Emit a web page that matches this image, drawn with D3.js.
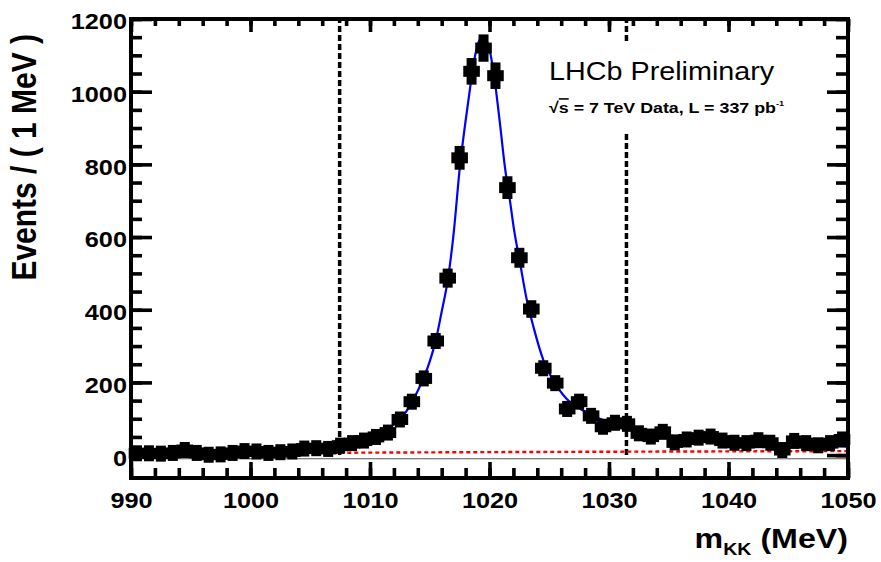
<!DOCTYPE html>
<html><head><meta charset="utf-8">
<script src="https://cdn.jsdelivr.net/npm/d3@7"></script>
<style>
body{margin:0;background:#fff}
svg{display:block}
text{font-family:"Liberation Sans",Arial,Helvetica,sans-serif;fill:#000}
</style>
</head><body>
<svg id="c" width="881" height="562"></svg>
<script>
// ---- data ----
const binCenters = [990.5,991.5,992.5,993.5,994.5,995.5,996.5,997.5,998.5,999.5,
  1000.5,1001.5,1002.5,1003.5,1004.5,1005.5,1006.5,1007.5,1008.5,1009.5,
  1010.5,1011.5,1012.5,1013.5,1014.5,1015.5,1016.5,1017.5,1018.5,1019.5,
  1020.5,1021.5,1022.5,1023.5,1024.5,1025.5,1026.5,1027.5,1028.5,1029.5,
  1030.5,1031.5,1032.5,1033.5,1034.5,1035.5,1036.5,1037.5,1038.5,1039.5,
  1040.5,1041.5,1042.5,1043.5,1044.5,1045.5,1046.5,1047.5,1048.5,1049.5];
const counts = [5,5,4,6,14,6,1,2,6,11,
  10,6,8,10,18,19,17,26,33,40,
  50,62,98,147,211,314,487,818,1056,1120,
  1044,736,543,402,239,198,127,147,108,78,
  89,86,60,51,64,35,43,48,51,40,
  34,33,41,34,14,39,33,27,33,43];
const fitMass = [1004,1006,1008,1010,1011,1012,1012.5,1013,1013.5,1014,1014.5,1015,1015.5,1016,1016.5,1017,1017.5,1018,1018.4,1018.8,1019.2,1019.45,1019.7,1020.1,1020.5,1020.9,1021.3,1021.7,1022.05,1022.55,1023.1,1023.7,1024.5,1025.6,1026.7,1027.3,1028.9,1030.4,1032.6,1035.4,1039.3,1044.6,1050];
const fitValues = [12,17,27,46,62,84,98,118,145,177,213,258,315,395,480,610,786,920,1016,1100,1145,1152,1145,1100,1015,905,790,703,621,530,430,350,262,192,147,133,105,88,72,52,41,31,24];
const bkgMass = [1004,1027,1050];
const bkgValues = [6,9,11];
const windowEdges = [1007.46,1031.46];
const xTicks = [990,1000,1010,1020,1030,1040,1050];
const yTicks = [0,200,400,600,800,1000,1200];
const xMinor = d3.range(990,1050.01,2);
const yMinor = d3.range(0,1200.01,50);
const xDomain = [990,1050];
const yDomain = [-63,1200];

// ---- layout ----
const L = 131, R = 848, T = 19, B = 478;
const SX = 1.15; // horizontal stretch of the reference text
const svg = d3.select("#c");
const x = d3.scaleLinear().domain(xDomain).range([L, R]);
const y = d3.scaleLinear().domain(yDomain).range([B, T]);

// thin baseline below zero
svg.append("line").attr("x1",L).attr("x2",R).attr("y1",y(-10)).attr("y2",y(-10))
  .attr("stroke","#555").attr("stroke-width",1.2);

// dashed window lines
svg.selectAll("line.win").data(windowEdges).join("line").attr("class","win")
  .attr("x1",d=>x(d)).attr("x2",d=>x(d)).attr("y1",y(0)).attr("y2",y(1200))
  .attr("stroke","#000").attr("stroke-width",3.5).attr("stroke-dasharray","6,3");

// background (red dashed)
const bkgLine = d3.line().x((d,i)=>x(bkgMass[i])).y(d=>y(d)).curve(d3.curveMonotoneX);
svg.append("path").attr("d",bkgLine(bkgValues)).attr("fill","none")
  .attr("stroke","#ff0000").attr("stroke-width",2.4).attr("stroke-dasharray","4,3");

// fit (blue)
const fitLine = d3.line().x((d,i)=>x(fitMass[i])).y(d=>y(d)).curve(d3.curveMonotoneX);
svg.append("path").attr("d",fitLine(fitValues)).attr("fill","none")
  .attr("stroke","#0000ff").attr("stroke-width",2.2);

// data markers
const pxPerUnit = Math.abs(y(1)-y(0));
const g = svg.append("g");
binCenters.forEach((m,i)=>{
  const c = counts[i];
  const cx = x(m), cy = y(c);
  const errPx = Math.sqrt(c)*pxPerUnit;
  const hv = Math.max(8, errPx+1.5);
  g.append("rect").attr("x",cx-8.3).attr("y",cy-5.5).attr("width",16.6).attr("height",11).attr("fill","#000");
  g.append("rect").attr("x",cx-5).attr("y",cy-hv).attr("width",10).attr("height",2*hv).attr("fill","#000");
});

// legend box
svg.append("rect").attr("x",540).attr("y",44).attr("width",262).attr("height",90).attr("fill","#fff");
svg.append("text").attr("transform",`translate(549,80) scale(${SX},1)`)
  .attr("font-size",25).text("LHCb Preliminary");
const t2 = svg.append("text").attr("transform",`translate(549,113) scale(${SX},1)`)
  .attr("font-size",15.5).attr("font-weight","bold");
t2.append("tspan").text("\u221A");
t2.append("tspan").attr("text-decoration","overline").text("s");
t2.append("tspan").text(" = 7 TeV Data, L = 337 pb");
t2.append("tspan").attr("font-size",8).attr("dy",-7).text("-1");

// axes
function styleAxis(sel){
  sel.select(".domain").remove();
  sel.selectAll("line").attr("stroke","#000").attr("stroke-width",3.6);
}
const axB = svg.append("g").attr("transform",`translate(0,${B})`)
  .call(d3.axisBottom(x).tickValues(xTicks).tickSize(-16).tickPadding(14).tickFormat(d3.format("d")));
styleAxis(axB);
axB.selectAll("text").attr("font-size",22).attr("font-weight","bold").attr("transform",`scale(${SX},1)`).attr("font-family",null);
svg.append("g").attr("transform",`translate(0,${B})`)
  .call(d3.axisBottom(x).tickValues(xMinor).tickSize(-10).tickFormat("")).call(styleAxis);
svg.append("g").attr("transform",`translate(0,${T})`)
  .call(d3.axisTop(x).tickValues(xTicks).tickSize(-13).tickFormat("")).call(styleAxis);
svg.append("g").attr("transform",`translate(0,${T})`)
  .call(d3.axisTop(x).tickValues(xMinor).tickSize(-7).tickFormat("")).call(styleAxis);

const axL = svg.append("g").attr("transform",`translate(${L},0)`)
  .call(d3.axisLeft(y).tickValues(yTicks).tickSize(-21).tickPadding(3.5).tickFormat(d3.format("d")));
styleAxis(axL);
axL.selectAll("text").attr("font-size",22).attr("font-weight","bold").attr("dy","0.45em").attr("transform",`scale(${SX},1)`).attr("font-family",null);
svg.append("g").attr("transform",`translate(${L},0)`)
  .call(d3.axisLeft(y).tickValues(yMinor).tickSize(-11).tickFormat("")).call(styleAxis);
svg.append("g").attr("transform",`translate(${R},0)`)
  .call(d3.axisRight(y).tickValues(yTicks).tickSize(-21).tickFormat("")).call(styleAxis);
svg.append("g").attr("transform",`translate(${R},0)`)
  .call(d3.axisRight(y).tickValues(yMinor).tickSize(-12).tickFormat("")).call(styleAxis);

// frame
svg.append("rect").attr("x",L).attr("y",T).attr("width",R-L).attr("height",B-T)
  .attr("fill","none").attr("stroke","#000").attr("stroke-width",4);

// axis titles
const xt = svg.append("text").attr("transform",`translate(848,548) scale(${SX},1)`)
  .attr("text-anchor","end").attr("font-size",28).attr("font-weight","bold");
xt.append("tspan").text("m");
xt.append("tspan").attr("font-size",17).attr("dy",7).text("KK");
xt.append("tspan").attr("dy",-7).text(" (MeV)");

svg.append("text").attr("transform",`translate(36,34) scale(${SX},1) rotate(-90)`)
  .attr("text-anchor","end").attr("font-size",30).attr("font-weight","bold").text("Events / ( 1 MeV )");
</script>
</body></html>
